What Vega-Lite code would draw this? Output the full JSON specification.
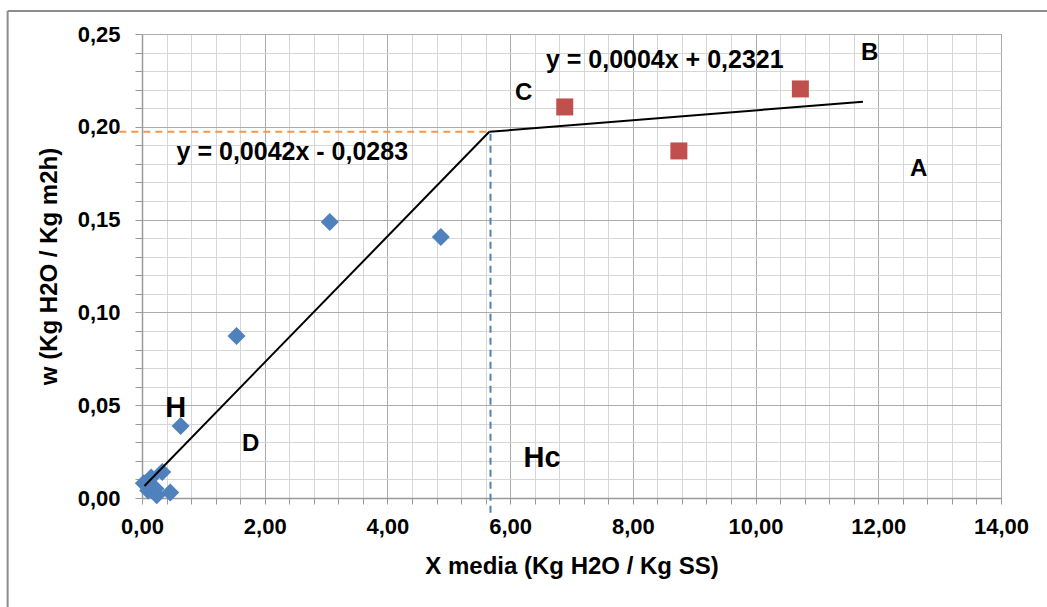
{
  "$schema": "https://vega.github.io/schema/vega-lite/v6.json",
  "width": 859,
  "height": 464,
  "autosize": "none",
  "padding": {"left": 142, "top": 34, "right": 46, "bottom": 109},
  "background": "white",
  "config": {"view": {"stroke": "#b0b0b0"}, "font": "Liberation Sans"},
  "layer": [
    {
      "data": {"values": [
        {"x": 1.54, "y": 0.0873}, {"x": 3.06, "y": 0.1487}, {"x": 4.87, "y": 0.1406}, {"x": 0.63, "y": 0.0388},
        {"x": 0.03, "y": 0.008}, {"x": 0.15, "y": 0.011}, {"x": 0.22, "y": 0.005}, {"x": 0.33, "y": 0.014},
        {"x": 0.24, "y": 0.0015}, {"x": 0.46, "y": 0.003}, {"x": 0.10, "y": 0.004}
      ]},
      "mark": {"type": "point", "shape": "diamond", "filled": true, "size": 324, "color": "#4F81BD", "opacity": 1},
      "encoding": {
        "x": {"field": "x", "type": "quantitative", "scale": {"domain": [0, 14], "nice": false},
          "axis": {"orient": "bottom", "values": [0,0.4,0.8,1.2,1.6,2,2.4,2.8,3.2,3.6,4,4.4,4.8,5.2,5.6,6,6.4,6.8,7.2,7.6,8,8.4,8.8,9.2,9.6,10,10.4,10.8,11.2,11.6,12,12.4,12.8,13.2,13.6,14],
            "grid": true, "gridColor": "#d6d6d6", "gridWidth": 1, "labels": false, "title": null,
            "ticks": true, "tickSize": 6, "tickColor": "#9a9a9a", "domain": true, "domainColor": "#9a9a9a", "domainWidth": 1.5}},
        "y": {"field": "y", "type": "quantitative", "scale": {"domain": [0, 0.25], "nice": false},
          "axis": {"orient": "left", "values": [0,0.01,0.02,0.03,0.04,0.05,0.06,0.07,0.08,0.09,0.1,0.11,0.12,0.13,0.14,0.15,0.16,0.17,0.18,0.19,0.2,0.21,0.22,0.23,0.24,0.25],
            "grid": true, "gridColor": "#d6d6d6", "gridWidth": 1, "labels": false, "title": null,
            "ticks": true, "tickSize": 7, "tickColor": "#9a9a9a", "domain": true, "domainColor": "#9a9a9a", "domainWidth": 1.5}}
      }
    },
    {
      "data": {"values": [
        {"x": 6.89, "y": 0.2107}, {"x": 8.75, "y": 0.187}, {"x": 10.73, "y": 0.2204}
      ]},
      "mark": {"type": "point", "shape": "square", "filled": true, "size": 289, "color": "#C0504D", "opacity": 1},
      "encoding": {
        "x": {"field": "x", "type": "quantitative", "scale": {"domain": [0, 14], "nice": false},
          "axis": {"orient": "bottom", "values": [0,2,4,6,8,10,12,14], "grid": true, "gridColor": "#ababab", "gridWidth": 1,
            "ticks": false, "domain": false, "labelFlush": false,
            "labelExpr": "replace(format(datum.value, '.2f'), '.', ',')",
            "labelFont": "Liberation Sans", "labelFontWeight": "bold", "labelFontSize": 22, "labelColor": "black", "labelPadding": 18,
            "title": "X media (Kg H2O / Kg SS)", "titleFont": "Liberation Sans", "titleFontWeight": "bold", "titleFontSize": 24, "titleColor": "black", "titlePadding": 17}},
        "y": {"field": "y", "type": "quantitative", "scale": {"domain": [0, 0.25], "nice": false},
          "axis": {"orient": "left", "values": [0,0.05,0.1,0.15,0.2,0.25], "grid": true, "gridColor": "#ababab", "gridWidth": 1,
            "ticks": false, "domain": false, "labelFlush": false,
            "labelExpr": "replace(format(datum.value, '.2f'), '.', ',')",
            "labelFont": "Liberation Sans", "labelFontWeight": "bold", "labelFontSize": 22, "labelColor": "black", "labelPadding": 22,
            "title": "w (Kg H2O / Kg m2h)", "titleFont": "Liberation Sans", "titleFontWeight": "bold", "titleFontSize": 24, "titleColor": "black", "titlePadding": 16}}
      }
    },
    {
      "data": {"values": [{"x": -0.37, "x2": 5.66, "y": 0.1974}]},
      "mark": {"type": "rule", "color": "#F79646", "strokeWidth": 2, "strokeDash": [7, 5]},
      "encoding": {
        "x": {"field": "x", "type": "quantitative", "scale": {"domain": [0, 14], "nice": false}, "axis": null},
        "x2": {"field": "x2"},
        "y": {"field": "y", "type": "quantitative", "scale": {"domain": [0, 0.25], "nice": false}, "axis": null}
      }
    },
    {
      "data": {"values": [{"x": 5.68, "y": -0.008, "y2": 0.1974}]},
      "mark": {"type": "rule", "color": "#4F81BD", "strokeWidth": 2, "strokeDash": [7, 5]},
      "encoding": {
        "x": {"field": "x", "type": "quantitative", "scale": {"domain": [0, 14], "nice": false}, "axis": null},
        "y": {"field": "y", "type": "quantitative", "scale": {"domain": [0, 0.25], "nice": false}, "axis": null},
        "y2": {"field": "y2"}
      }
    },
    {
      "data": {"values": [
        {"x": 0.04, "y": 0.0065, "x2": 5.66, "y2": 0.1973},
        {"x": 5.66, "y": 0.1973, "x2": 11.75, "y2": 0.2135}
      ]},
      "mark": {"type": "rule", "color": "black", "strokeWidth": 2},
      "encoding": {
        "x": {"field": "x", "type": "quantitative", "scale": {"domain": [0, 14], "nice": false}, "axis": null},
        "y": {"field": "y", "type": "quantitative", "scale": {"domain": [0, 0.25], "nice": false}, "axis": null},
        "x2": {"field": "x2"},
        "y2": {"field": "y2"}
      }
    },
    {
      "data": {"values": [
        {"x": 8.52, "y": 0.236, "label": "y = 0,0004x + 0,2321"},
        {"x": 2.45, "y": 0.1866, "label": "y = 0,0042x - 0,0283"}
      ]},
      "mark": {"type": "text", "font": "Liberation Sans", "fontWeight": "bold", "fontSize": 25, "color": "black", "align": "center", "baseline": "middle"},
      "encoding": {
        "x": {"field": "x", "type": "quantitative", "scale": {"domain": [0, 14], "nice": false}, "axis": null},
        "y": {"field": "y", "type": "quantitative", "scale": {"domain": [0, 0.25], "nice": false}, "axis": null},
        "text": {"field": "label"}
      }
    },
    {
      "data": {"values": [
        {"x": 6.22, "y": 0.218, "label": "C"},
        {"x": 11.86, "y": 0.240, "label": "B"},
        {"x": 12.66, "y": 0.1773, "label": "A"},
        {"x": 1.77, "y": 0.0289, "label": "D"}
      ]},
      "mark": {"type": "text", "font": "Liberation Sans", "fontWeight": "bold", "fontSize": 24, "color": "black", "align": "center", "baseline": "middle"},
      "encoding": {
        "x": {"field": "x", "type": "quantitative", "scale": {"domain": [0, 14], "nice": false}, "axis": null},
        "y": {"field": "y", "type": "quantitative", "scale": {"domain": [0, 0.25], "nice": false}, "axis": null},
        "text": {"field": "label"}
      }
    },
    {
      "data": {"values": [
        {"x": 0.55, "y": 0.0483, "label": "H"},
        {"x": 6.52, "y": 0.0216, "label": "Hc"}
      ]},
      "mark": {"type": "text", "font": "Liberation Sans", "fontWeight": "bold", "fontSize": 29, "color": "black", "align": "center", "baseline": "middle"},
      "encoding": {
        "x": {"field": "x", "type": "quantitative", "scale": {"domain": [0, 14], "nice": false}, "axis": null},
        "y": {"field": "y", "type": "quantitative", "scale": {"domain": [0, 0.25], "nice": false}, "axis": null},
        "text": {"field": "label"}
      }
    },
    {
      "data": {"values": [
        {"x": -2.19, "x2": 14.8, "y": 0.2624, "y2": 0.2624},
        {"x": -2.19, "x2": -2.19, "y": -0.06, "y2": 0.2624}
      ]},
      "mark": {"type": "rule", "color": "#8c8c8c", "strokeWidth": 2},
      "encoding": {
        "x": {"field": "x", "type": "quantitative", "scale": {"domain": [0, 14], "nice": false}, "axis": null},
        "y": {"field": "y", "type": "quantitative", "scale": {"domain": [0, 0.25], "nice": false}, "axis": null},
        "x2": {"field": "x2"},
        "y2": {"field": "y2"}
      }
    }
  ],
  "resolve": {"axis": {"x": "independent", "y": "independent"}}
}
